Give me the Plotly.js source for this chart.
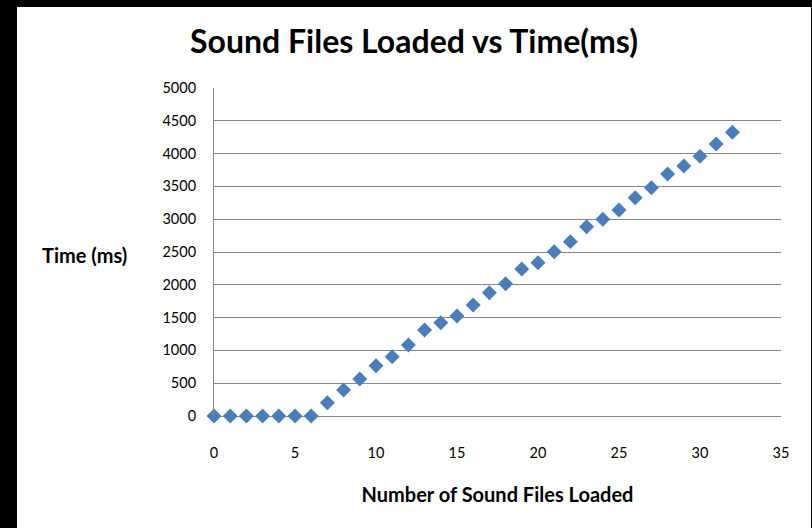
<!DOCTYPE html>
<html>
<head>
<meta charset="utf-8">
<script src="https://cdn.plot.ly/plotly-3.0.1.min.js"></script>
<style>
  html, body { margin: 0; padding: 0; background: #000; width: 812px; height: 528px; overflow: hidden; }
  #chart { position: absolute; left: 17px; top: 7px; width: 794px; height: 521px; background: #fff; }
</style>
</head>
<body>
<div id="chart"></div>
<script>
// Data
const filesLoaded = [0,1,2,3,4,5,6,7,8,9,10,11,12,13,14,15,16,17,18,19,20,21,22,23,24,25,26,27,28,29,30,31,32];
const timeMs = [0,0,0,0,0,0,0,203,396,564,767,904,1082,1311,1423,1524,1692,1880,2015,2241,2337,2505,2658,2886,2998,3140,3328,3481,3689,3811,3958,4146,4324];
const xTickVals = [0,5,10,15,20,25,30,35];
const yTickVals = [0,500,1000,1500,2000,2500,3000,3500,4000,4500,5000];

const chartTitle = 'Sound Files Loaded vs Time(ms)';
const xTitle = 'Number of Sound Files Loaded';
const yTitle = 'Time (ms)';

const FONT = 'Lato, "Open Sans", sans-serif';

const trace = {
  x: filesLoaded,
  y: timeMs,
  type: 'scatter',
  mode: 'markers',
  cliponaxis: false,
  marker: { symbol: 'diamond', size: 11.5, color: '#4a7ebb', line: { width: 0 } },
  hoverinfo: 'x+y'
};

const layout = {
  width: 794,
  height: 521,
  margin: { l: 197, r: 30, t: 81, b: 112 },
  paper_bgcolor: '#ffffff',
  plot_bgcolor: '#ffffff',
  showlegend: false,
  font: { family: FONT, color: '#000000', size: 14 },
  title: {
    text: '<b>' + chartTitle + '</b>',
    font: { family: FONT, size: 32, color: '#000000' },
    xref: 'container', x: 0.5, xanchor: 'center',
    yref: 'container', y: 1 - 35 / 521, yanchor: 'middle'
  },
  xaxis: {
    range: [0, 35],
    tickvals: xTickVals,
    ticktext: xTickVals.map(String),
    showgrid: false,
    zeroline: false,
    showline: false,
    ticks: '',
    ticklabelstandoff: 26,
    tickfont: { family: FONT, size: 14.5, color: '#000000' },
    title: {
      text: '<b>' + xTitle + '</b>',
      font: { family: FONT, size: 20, color: '#000000' },
      standoff: 28
    },
    fixedrange: true
  },
  yaxis: {
    range: [0, 5000],
    tickvals: yTickVals,
    ticktext: yTickVals.map(String),
    showgrid: true,
    gridcolor: '#868686',
    gridwidth: 1,
    zeroline: true,
    zerolinecolor: '#868686',
    zerolinewidth: 1,
    showline: true,
    linecolor: '#868686',
    linewidth: 1,
    ticks: '',
    ticklabelstandoff: 14,
    tickfont: { family: FONT, size: 14.5, color: '#000000' },
    fixedrange: true
  },
  annotations: [{
    text: '<b>' + yTitle + '</b>',
    xref: 'paper', yref: 'paper',
    x: (84 - 214) / (781 - 214), y: 0.5 - (255 - 252) / 328,
    xanchor: 'center', yanchor: 'middle',
    showarrow: false,
    font: { family: FONT, size: 20, color: '#000000' }
  }]
};

Plotly.newPlot('chart', [trace], layout, { displayModeBar: false, staticPlot: true });
</script>
</body>
</html>
